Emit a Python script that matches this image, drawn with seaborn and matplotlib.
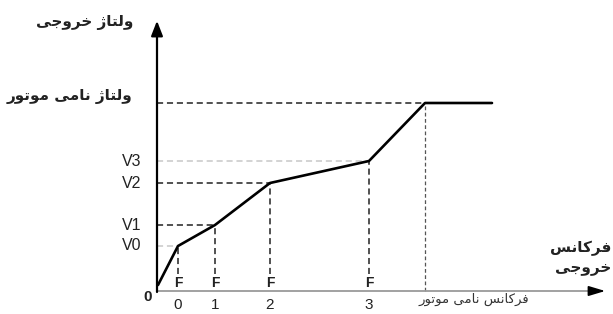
import matplotlib
matplotlib.use("Agg")
import matplotlib.pyplot as plt
import seaborn as sns
import pandas as pd

# ---- data ----
freq_points = [1, 21, 58, 113, 212, 268, 335]      # output frequency (curve vertices)
volt_points = [6, 45, 66, 108, 130, 188, 188]      # output voltage (curve vertices)
f_marks = [21, 58, 113, 212]                        # F0..F3
f_numbers = ["0", "1", "2", "3"]
v_marks = [45, 66, 108, 130]                        # V0..V3
v_labels = ["V0", "V1", "V2", "V3"]
f_rated = 268
v_rated = 188

txt_vout = "ولتاژ خروجی"
txt_vrated = "ولتاژ نامی موتور"
txt_fout1 = "فرکانس"
txt_fout2 = "خروجی"
txt_frated = "فرکانس نامی موتور"

# ---- simple Persian shaper (presentation forms + RTL order) ----
FORMS = {
    'ا': ('\uFE8D', '\uFE8E', None, None),
    'ت': ('\uFE95', '\uFE96', '\uFE97', '\uFE98'),
    'ج': ('\uFE9D', '\uFE9E', '\uFE9F', '\uFEA0'),
    'خ': ('\uFEA5', '\uFEA6', '\uFEA7', '\uFEA8'),
    'ر': ('\uFEAD', '\uFEAE', None, None),
    'س': ('\uFEB1', '\uFEB2', '\uFEB3', '\uFEB4'),
    'ف': ('\uFED1', '\uFED2', '\uFED3', '\uFED4'),
    'ل': ('\uFEDD', '\uFEDE', '\uFEDF', '\uFEE0'),
    'م': ('\uFEE1', '\uFEE2', '\uFEE3', '\uFEE4'),
    'ن': ('\uFEE5', '\uFEE6', '\uFEE7', '\uFEE8'),
    'و': ('\uFEED', '\uFEEE', None, None),
    'ی': ('\uFBFC', '\uFBFD', '\uFBFE', '\uFBFF'),
    'ک': ('\uFB8E', '\uFB8F', '\uFB90', '\uFB91'),
    'ژ': ('\uFB8A', '\uFB8B', None, None),
}


def shape(s):
    out = []
    for i, c in enumerate(s):
        if c not in FORMS:
            out.append(c)
            continue
        prev = s[i - 1] if i > 0 else None
        nxt = s[i + 1] if i + 1 < len(s) else None
        jp = prev in FORMS and FORMS[prev][2] is not None
        jn = FORMS[c][2] is not None and nxt in FORMS
        iso, fin, ini, med = FORMS[c]
        if jp and jn:
            out.append(med)
        elif jp:
            out.append(fin)
        elif jn:
            out.append(ini)
        else:
            out.append(iso)
    return "".join(reversed(out))


sns.set_style("white")
plt.rcParams["font.family"] = ["Liberation Sans", "DejaVu Sans"]

fig = plt.figure(figsize=(6.13, 3.14), dpi=100)
ax = fig.add_axes([0, 0, 1, 1])
ax.set_xlim(-157, 456)
ax.set_ylim(-23, 291)
ax.axis("off")

df = pd.DataFrame({"f": freq_points, "v": volt_points})
sns.lineplot(data=df, x="f", y="v", ax=ax, color="black", linewidth=1.9,
             sort=False, estimator=None, zorder=5)

# axes with arrows
ax.plot([0, 0], [-1, 262], color="black", linewidth=1.6, zorder=4)
ax.annotate("", xy=(0, 273), xytext=(0, 255),
            arrowprops=dict(arrowstyle="-|>,head_length=0.9,head_width=0.35",
                            color="black", lw=1.6))
ax.plot([0, 440], [0, 0], color="#9a9a9a", linewidth=1.3, zorder=3)
ax.annotate("", xy=(451, 0), xytext=(432, 0),
            arrowprops=dict(arrowstyle="-|>,head_length=1.0,head_width=0.3",
                            color="black", lw=1.2))

# horizontal guide lines
dash_dark = dict(color="#222222", linewidth=1.1, linestyles=(0, (4, 2.5)))
dash_light = dict(color="#c8c8c8", linewidth=1.1, linestyles=(0, (4, 2.5)))
for fm, vm, lab in zip(f_marks, v_marks, v_labels):
    style = dash_light if lab in ("V0", "V3") else dash_dark
    ax.hlines(vm, 0, fm, **style)
    ax.text(-25, vm, lab, ha="center", va="center", fontsize=11.5,
            color="#222222")
ax.hlines(v_rated, 0, f_rated, **dash_dark)

# vertical guide lines
for fm, vm, num in zip(f_marks, v_marks, f_numbers):
    ax.vlines(fm, 17, vm, **dash_dark)
    ax.text(fm, 8, "F", ha="center", va="center", fontsize=10, color="#222222",
            fontweight="bold")
    ax.text(fm, -14, num, ha="center", va="center", fontsize=11,
            color="#222222")
ax.vlines(f_rated, 0, v_rated, color="#555555", linewidth=0.9,
          linestyles=(0, (3, 2)))

ax.text(-9, -6, "0", ha="center", va="center", fontsize=11,
        fontweight="bold", color="#222222")

pf = dict(family=["DejaVu Sans"], fontsize=11, fontweight="bold",
          color="#222222")
ax.text(-72, 269, shape(txt_vout), ha="center", va="center", **pf)
ax.text(-25, 194, shape(txt_vrated), ha="right", va="center", **pf)
ax.text(317, -8, shape(txt_frated), ha="center", va="center",
        family=["DejaVu Sans"], fontsize=9.5, color="#333333")
ax.text(454, 43, shape(txt_fout1), ha="right", va="center", **pf)
ax.text(454, 23, shape(txt_fout2), ha="right", va="center", **pf)

fig.savefig("out.png", dpi=100)
